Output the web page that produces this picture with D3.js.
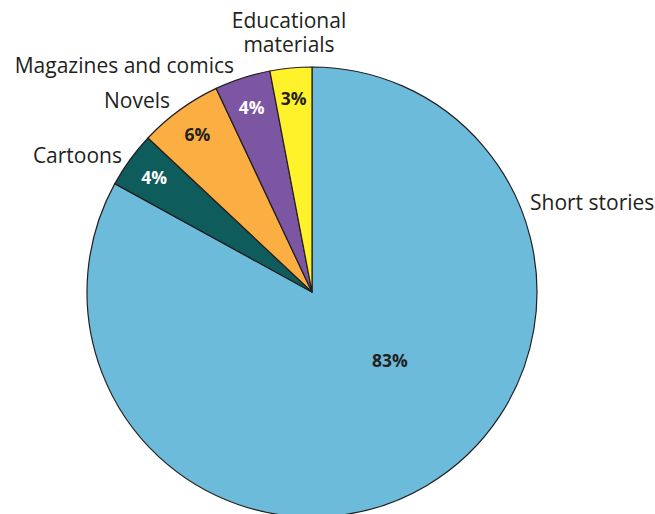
<!DOCTYPE html>
<html><head><meta charset="utf-8">
<script src="https://cdn.jsdelivr.net/npm/d3@7"></script>
<style>body{margin:0;background:#fff}svg{display:block}</style>
</head><body>
<svg id="c" width="655" height="514"></svg>
<script>
const categories = ["Short stories", "Cartoons", "Novels", "Magazines and comics", "Educational materials"];
const values = [83, 4, 6, 4, 3];
const colors = ["#6cbbdb", "#0f5c5c", "#fbae41", "#7d56a3", "#fff22a"];
const pctColors = ["#231f20", "#ffffff", "#231f20", "#ffffff", "#231f20"];

const svg = d3.select("#c");
const cx = 312, cy = 292, R = 225;
const g = svg.append("g").attr("transform", `translate(${cx},${cy})`);
const pie = d3.pie().sort(null).value(d => d)(values);
const arc = d3.arc().innerRadius(0).outerRadius(R);
g.selectAll("path").data(pie).join("path")
  .attr("d", arc).attr("fill", (d, i) => colors[i])
  .attr("stroke", "#231f20").attr("stroke-width", 1.2).attr("stroke-linejoin", "round");

const labelArc = d3.arc().innerRadius(195).outerRadius(195);
g.selectAll("text.pct").data(pie).join("text").attr("class", "pct")
  .attr("transform", (d, i) => {
    if (i === 0) return `translate(78,68)`;
    const [x, y] = labelArc.centroid(d);
    return `translate(${x},${y})`;
  })
  .attr("text-anchor", "middle").attr("dominant-baseline", "central")
  .attr("font-family", "Open Sans, sans-serif").attr("font-weight", "bold")
  .attr("font-size", 17.5).attr("fill", (d, i) => pctColors[i])
  .text(d => d.data + "%");

// outside labels
const lab = [
  {x: 530, y: 210, a: "start"},
  {x: 122, y: 163, a: "end"},
  {x: 170, y: 108, a: "end"},
  {x: 234, y: 73, a: "end"},
  {x: 289, y: 28, a: "middle"}
];
lab.forEach((l, i) => {
  const parts = i === 4 ? ["Educational", "materials"] : [categories[i]];
  parts.forEach((p, j) => svg.append("text").attr("x", l.x).attr("y", l.y + j * 24)
    .attr("text-anchor", l.a)
    .attr("font-family", "Open Sans, sans-serif").attr("font-size", 21).attr("fill", "#231f20")
    .text(p));
});
</script>
</body></html>
